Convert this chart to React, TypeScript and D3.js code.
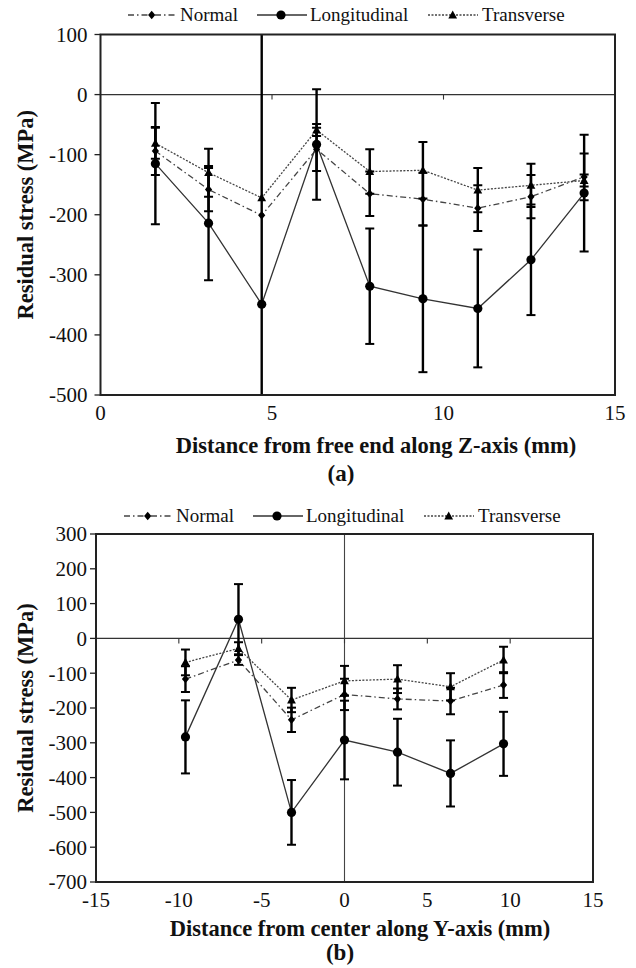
import React from "react";
import * as d3 from "d3";

// Panel (a): distance from free end along Z-axis (mm)
const zPositions = [1.6, 3.15, 4.7, 6.3, 7.85, 9.4, 11.0, 12.55, 14.1];
const zNormal = [-94, -158, -201, -91, -165, -174, -189, -170, -137];
const zNormalErr = [40, 36, null, 36, 37, 44, 38, 36, 39];
const zLongitudinal = [-115, -214, -349, -83, -319, -340, -356, -275, -164];
const zLongitudinalErr = [101, 95, 480, 92, 96, 122, 98, 92, 97];
const zTransverse = [-81, -130, -172, -59, -128, -126, -159, -151, -143];
const zTransverseErr = [26, 40, null, 10, 37, 47, 37, 36, 10];
const zXTicks = [0, 5, 10, 15];
const zYTicks = [100, 0, -100, -200, -300, -400, -500];

// Panel (b): distance from center along Y-axis (mm)
const yPositions = [-9.6, -6.4, -3.2, 0, 3.2, 6.4, 9.6];
const yNormal = [-117, -62, -234, -161, -174, -180, -134];
const yNormalErr = [37, 14, 35, 45, 30, 38, 37];
const yLongitudinal = [-283, 55, -500, -292, -327, -388, -303];
const yLongitudinalErr = [105, 101, 93, 113, 96, 95, 92];
const yTransverse = [-69, -29, -177, -122, -117, -139, -62];
const yTransverseErr = [37, 18, 35, 43, 40, 39, 38];
const yXTicks = [-15, -10, -5, 0, 5, 10, 15];
const yYTicks = [300, 200, 100, 0, -100, -200, -300, -400, -500, -600, -700];

const seriesNames = ["Normal", "Longitudinal", "Transverse"];

const FONT = '"Liberation Serif", "Times New Roman", Times, "DejaVu Serif", serif';

type Marker = "diamond" | "circle" | "triangle";

const seriesStyle: { marker: Marker; dash: string | undefined; stroke: string }[] = [
  { marker: "diamond", dash: "6,3,1.5,3", stroke: "#444" },
  { marker: "circle", dash: undefined, stroke: "#333" },
  { marker: "triangle", dash: "2,1.5", stroke: "#444" },
];

function MarkerShape({ kind, x, y }: { kind: Marker; x: number; y: number }) {
  if (kind === "circle") return <circle cx={x} cy={y} r={4.6} fill="#000" />;
  if (kind === "diamond")
    return <path d={`M${x},${y - 4.2}L${x + 3.6},${y}L${x},${y + 4.2}L${x - 3.6},${y}Z`} fill="#000" />;
  return <path d={`M${x},${y - 4.6}L${x + 4.4},${y + 3.4}L${x - 4.4},${y + 3.4}Z`} fill="#000" />;
}

type PanelProps = {
  id: string;
  xs: number[];
  values: number[][];
  errors: (number | null)[][];
  xDomain: [number, number];
  yDomain: [number, number];
  xTicks: number[];
  yTicks: number[];
  box: { left: number; right: number; top: number; bottom: number };
  yLabelGap: number;
  xLabelY: number;
  xTitle: string;
  xTitleX: number;
  xTitleY: number;
  tag: string;
  tagX: number;
  tagY: number;
  legendY: number;
  legendShift: number;
  showZeroVertical: boolean;
};

const textStyle = { fontFamily: FONT };

function Legend({ y, shift }: { y: number; shift: number }) {
  const items = [
    { x1: 128, x2: 177, mx: 151.7, tx: 180 },
    { x1: 257, x2: 307, mx: 281, tx: 310 },
    { x1: 428, x2: 478, mx: 452.7, tx: 482 },
  ];
  return (
    <g>
      {items.map((it, i) => (
        <g key={i} transform={`translate(${shift},0)`}>
          <line
            x1={it.x1}
            x2={it.x2}
            y1={y}
            y2={y}
            stroke={seriesStyle[i].stroke}
            strokeWidth={1.3}
            strokeDasharray={seriesStyle[i].dash}
          />
          <MarkerShape kind={seriesStyle[i].marker} x={it.mx} y={y} />
          <text x={it.tx} y={y + 6} style={textStyle} fontSize={19} fill="#111">
            {seriesNames[i]}
          </text>
        </g>
      ))}
    </g>
  );
}

function Panel(p: PanelProps) {
  const x = d3.scaleLinear().domain(p.xDomain).range([p.box.left, p.box.right]);
  const y = d3.scaleLinear().domain(p.yDomain).range([p.box.bottom, p.box.top]);
  const line = d3
    .line<[number, number]>()
    .x((d) => x(d[0]))
    .y((d) => y(d[1]));
  const clipId = `clip-${p.id}`;
  const midY = (p.box.top + p.box.bottom) / 2;

  return (
    <g>
      <defs>
        <clipPath id={clipId}>
          <rect
            x={p.box.left}
            y={p.box.top}
            width={p.box.right - p.box.left}
            height={p.box.bottom - p.box.top}
          />
        </clipPath>
      </defs>

      <Legend y={p.legendY} shift={p.legendShift} />

      {/* zero reference lines */}
      <line x1={p.box.left} x2={p.box.right} y1={y(0)} y2={y(0)} stroke="#333" strokeWidth={1.2} />
      {p.showZeroVertical && (
        <line x1={x(0)} x2={x(0)} y1={p.box.top} y2={p.box.bottom} stroke="#444" strokeWidth={1.1} />
      )}
      {p.xTicks
        .filter((t) => t !== p.xDomain[0])
        .map((t) => (
          <line key={t} x1={x(t)} x2={x(t)} y1={y(0)} y2={y(0) + 5} stroke="#333" strokeWidth={1.1} />
        ))}

      {/* series lines */}
      <g clipPath={`url(#${clipId})`}>
        {p.values.map((vals, si) => (
          <path
            key={si}
            d={line(vals.map((v, i) => [p.xs[i], v] as [number, number])) || ""}
            fill="none"
            stroke={seriesStyle[si].stroke}
            strokeWidth={1.3}
            strokeDasharray={seriesStyle[si].dash}
          />
        ))}
        {/* error bars */}
        {p.values.map((vals, si) =>
          vals.map((v, i) => {
            const e = p.errors[si][i];
            if (e == null) return null;
            const cx = x(p.xs[i]);
            const y1 = y(v + e);
            const y2 = y(v - e);
            return (
              <g key={`${si}-${i}`} stroke="#000">
                <line x1={cx} x2={cx} y1={y1} y2={y2} strokeWidth={2.4} />
                <line x1={cx - 4.5} x2={cx + 4.5} y1={y1} y2={y1} strokeWidth={2} />
                <line x1={cx - 4.5} x2={cx + 4.5} y1={y2} y2={y2} strokeWidth={2} />
              </g>
            );
          })
        )}
      </g>
      {p.values.map((vals, si) =>
        vals.map((v, i) => (
          <MarkerShape key={`m${si}-${i}`} kind={seriesStyle[si].marker} x={x(p.xs[i])} y={y(v)} />
        ))
      )}

      {/* frame */}
      <rect
        x={p.box.left}
        y={p.box.top}
        width={p.box.right - p.box.left}
        height={p.box.bottom - p.box.top}
        fill="none"
        stroke="#222"
        strokeWidth={2}
      />

      {/* y axis ticks and labels */}
      {p.yTicks.map((t) => (
        <g key={t}>
          <line x1={p.box.left - 6} x2={p.box.left} y1={y(t)} y2={y(t)} stroke="#222" strokeWidth={1.3} />
          <text
            x={p.box.left - p.yLabelGap}
            y={y(t)}
            dy="0.35em"
            textAnchor="end"
            style={textStyle}
            fontSize={21}
            fill="#111"
          >
            {t}
          </text>
        </g>
      ))}

      {/* x tick labels */}
      {p.xTicks.map((t) => (
        <text
          key={t}
          x={x(t)}
          y={p.xLabelY}
          dy="0.35em"
          textAnchor="middle"
          style={textStyle}
          fontSize={21}
          fill="#111"
        >
          {t}
        </text>
      ))}

      <text
        x={p.xTitleX}
        y={p.xTitleY}
        dy="0.35em"
        textAnchor="middle"
        style={textStyle}
        fontWeight="bold"
        fontSize={22.5}
        fill="#111"
      >
        {p.xTitle}
      </text>
      <text
        x={p.tagX}
        y={p.tagY}
        dy="0.35em"
        textAnchor="middle"
        style={textStyle}
        fontWeight="bold"
        fontSize={23}
        fill="#111"
      >
        {p.tag}
      </text>
      <text
        transform={`translate(25,${midY}) rotate(-90)`}
        dy="0.35em"
        textAnchor="middle"
        style={textStyle}
        fontWeight="bold"
        fontSize={22.5}
        fill="#111"
      >
        Residual stress (MPa)
      </text>
    </g>
  );
}

export default function App() {
  return (
    <svg
      width={636}
      height={968}
      viewBox="0 0 636 968"
      style={{ position: "absolute", left: 0, top: 0, background: "#fff" }}
    >
      <rect width={636} height={968} fill="#fff" />
      <Panel
        id="a"
        xs={zPositions}
        values={[zNormal, zLongitudinal, zTransverse]}
        errors={[zNormalErr, zLongitudinalErr, zTransverseErr]}
        xDomain={[0, 15]}
        yDomain={[-500, 100]}
        xTicks={zXTicks}
        yTicks={zYTicks}
        box={{ left: 100.5, right: 615, top: 34.5, bottom: 395 }}
        yLabelGap={13}
        xLabelY={413}
        xTitle="Distance from free end along Z-axis (mm)"
        xTitleX={376}
        xTitleY={445}
        tag="(a)"
        tagX={341}
        tagY={473}
        legendY={15}
        legendShift={0}
        showZeroVertical={false}
      />
      <Panel
        id="b"
        xs={yPositions}
        values={[yNormal, yLongitudinal, yTransverse]}
        errors={[yNormalErr, yLongitudinalErr, yTransverseErr]}
        xDomain={[-15, 15]}
        yDomain={[-700, 300]}
        xTicks={yXTicks}
        yTicks={yYTicks}
        box={{ left: 96, right: 593, top: 534, bottom: 882 }}
        yLabelGap={9}
        xLabelY={900}
        xTitle="Distance from center along Y-axis (mm)"
        xTitleX={360}
        xTitleY={928}
        tag="(b)"
        tagX={340}
        tagY={952}
        legendY={516}
        legendShift={-4}
        showZeroVertical={true}
      />
    </svg>
  );
}
